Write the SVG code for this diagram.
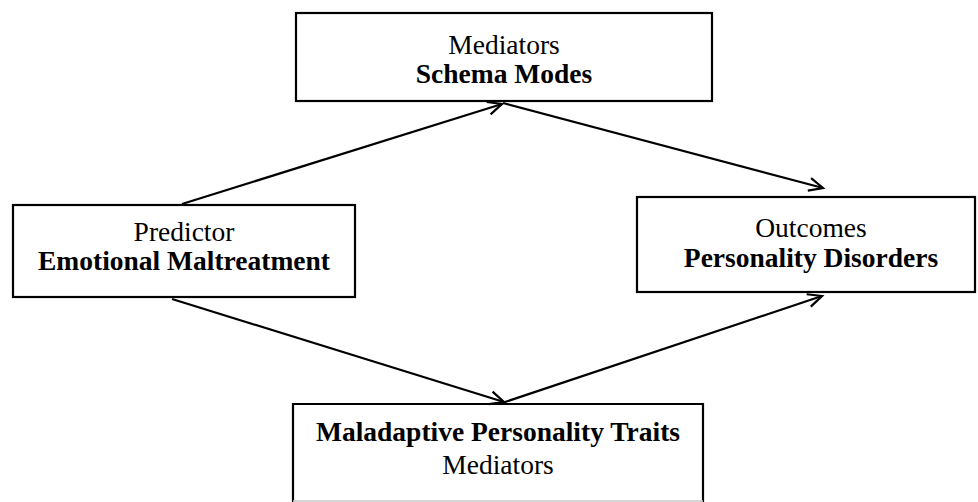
<svg xmlns="http://www.w3.org/2000/svg" width="978" height="502" viewBox="0 0 978 502">
  <style>
    .box { fill: #ffffff; stroke: #000000; stroke-width: 2.2; }
    .edge { fill: none; stroke: #000000; stroke-width: 2.2; }
    .t { font-family: "Liberation Serif", "Times New Roman", serif; font-size: 27.5px; fill: #000000; text-anchor: middle; }
    .b { font-weight: bold; }
  </style>
  <defs>
    <marker id="open-arrow" markerUnits="userSpaceOnUse" markerWidth="20" markerHeight="20" refX="0" refY="0" viewBox="-16 -10 20 20" orient="auto">
      <path d="M -14 -6.5 L 0 0 L -14 6.5" fill="none" stroke="#000000" stroke-width="2.2"/>
    </marker>
  </defs>

  <rect width="978" height="502" fill="#ffffff"/>

  <g id="connectors">
    <line class="edge" x1="182" y1="204" x2="502" y2="104" marker-end="url(#open-arrow)"/>
    <line class="edge" x1="503" y1="103" x2="823" y2="188" marker-end="url(#open-arrow)"/>
    <line class="edge" x1="172" y1="299" x2="504" y2="402" marker-end="url(#open-arrow)"/>
    <line class="edge" x1="505" y1="402" x2="822" y2="296" marker-end="url(#open-arrow)"/>
  </g>

  <g id="schema-modes">
    <rect class="box" x="296" y="13" width="416" height="88"/>
    <text class="t" x="504" y="54">Mediators</text>
    <text class="t b" x="504" y="83">Schema Modes</text>
  </g>

  <g id="emotional-maltreatment">
    <rect class="box" x="13" y="205" width="342" height="92"/>
    <text class="t" x="184" y="241">Predictor</text>
    <text class="t b" x="184" y="270">Emotional Maltreatment</text>
  </g>

  <g id="personality-disorders">
    <rect class="box" x="637" y="197" width="338" height="95"/>
    <text class="t" x="811" y="237">Outcomes</text>
    <text class="t b" x="811" y="267">Personality Disorders</text>
  </g>

  <g id="maladaptive-traits">
    <path class="edge" d="M 293 502 V 404 H 703 V 502"/>
    <line x1="293" y1="501" x2="703" y2="501" stroke="#c8c8c8" stroke-width="1.5"/>
    <text class="t b" x="498" y="441">Maladaptive Personality Traits</text>
    <text class="t" x="498" y="474">Mediators</text>
  </g>
</svg>
